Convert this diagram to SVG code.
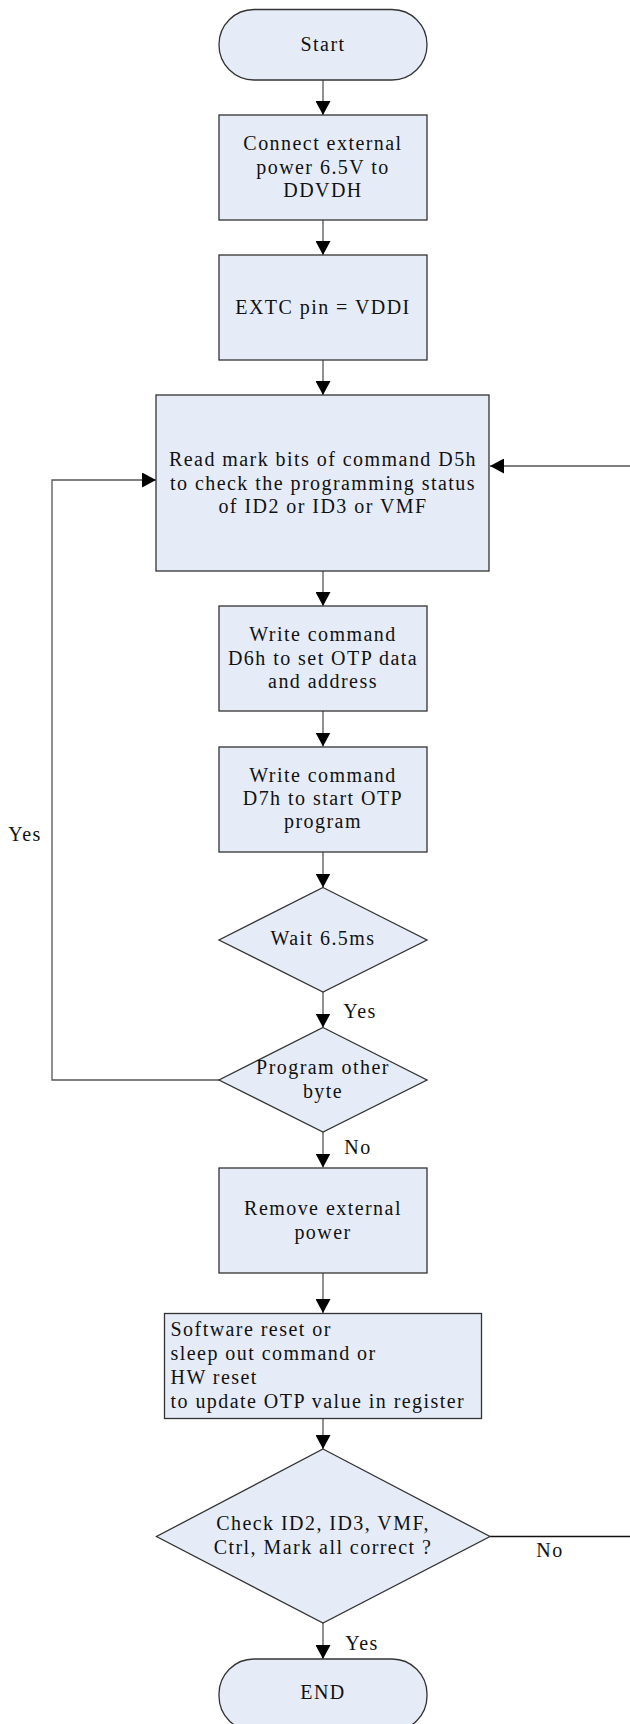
<svg xmlns="http://www.w3.org/2000/svg" width="630" height="1724" viewBox="0 0 630 1724">
<defs>
<style>
.n{fill:#E6ECF7;stroke:#333;stroke-width:1.3}
.t{font-family:"Liberation Serif","Times New Roman",serif;font-size:20px;letter-spacing:1.45px;fill:#111;text-anchor:middle}
.l{text-anchor:start}
.c{fill:none;stroke:#555;stroke-width:1.3}
.k{stroke:#111}
</style>
<marker id="a" markerWidth="14" markerHeight="15" viewBox="0 0 14 15" refX="14" refY="7.5" orient="auto" markerUnits="userSpaceOnUse">
<path d="M0,0 L14,7.5 L0,15 Z" fill="#000"/>
</marker>
</defs>
<rect width="630" height="1724" fill="#fff"/>
<g id="connectors">
<path class="c" d="M323,80 V115" marker-end="url(#a)"/>
<path class="c" d="M323,220 V255" marker-end="url(#a)"/>
<path class="c" d="M323,360 V395" marker-end="url(#a)"/>
<path class="c" d="M323,571 V606" marker-end="url(#a)"/>
<path class="c" d="M323,711 V746.5" marker-end="url(#a)"/>
<path class="c" d="M323,852 V887.5" marker-end="url(#a)"/>
<path class="c" d="M323,992 V1027.5" marker-end="url(#a)"/>
<path class="c" d="M323,1132 V1167.5" marker-end="url(#a)"/>
<path class="c" d="M323,1273 V1313" marker-end="url(#a)"/>
<path class="c" d="M323,1418 V1449" marker-end="url(#a)"/>
<path class="c" d="M323,1623 V1659" marker-end="url(#a)"/>
<path class="c" d="M219,1080 H52 V480 H156" marker-end="url(#a)"/>
<path class="c k" d="M490,1536.5 H630"/>
<path class="c" d="M630,466 H490" marker-end="url(#a)"/>
<text class="t" x="25" y="841">Yes</text>
<text class="t" x="360" y="1018">Yes</text>
<text class="t" x="358" y="1154">No</text>
<text class="t" x="550" y="1557">No</text>
<text class="t" x="362" y="1650">Yes</text>
</g>
<g id="start">
<rect class="n" x="219" y="9.5" width="208" height="70.5" rx="35" ry="35"/>
<text class="t" x="323" y="51">Start</text>
</g>
<g id="connect">
<rect class="n" x="219" y="115" width="208" height="105"/>
<text class="t" x="323" y="150">Connect external</text>
<text class="t" x="323" y="173.5">power 6.5V to</text>
<text class="t" x="323" y="197">DDVDH</text>
</g>
<g id="extc">
<rect class="n" x="219" y="255" width="208" height="105"/>
<text class="t" x="323" y="314">EXTC pin = VDDI</text>
</g>
<g id="read">
<rect class="n" x="156" y="395" width="333" height="176"/>
<text class="t" x="323" y="466">Read mark bits of command D5h</text>
<text class="t" x="323" y="489.5">to check the programming status</text>
<text class="t" x="323" y="513">of ID2 or ID3 or VMF</text>
</g>
<g id="d6">
<rect class="n" x="219" y="606" width="208" height="105"/>
<text class="t" x="323" y="641">Write command</text>
<text class="t" x="323" y="665">D6h to set OTP data</text>
<text class="t" x="323" y="688">and address</text>
</g>
<g id="d7">
<rect class="n" x="219" y="747" width="208" height="105"/>
<text class="t" x="323" y="782">Write command</text>
<text class="t" x="323" y="805">D7h to start OTP</text>
<text class="t" x="323" y="828">program</text>
</g>
<g id="wait">
<polygon class="n" points="323,887.5 427,940 323,992 219,940"/>
<text class="t" x="323" y="945">Wait 6.5ms</text>
</g>
<g id="other">
<polygon class="n" points="323,1027.5 427,1080 323,1132 219,1080"/>
<text class="t" x="323" y="1074">Program other</text>
<text class="t" x="323" y="1098">byte</text>
</g>
<g id="remove">
<rect class="n" x="219" y="1168" width="208" height="105"/>
<text class="t" x="323" y="1215">Remove external</text>
<text class="t" x="323" y="1238.5">power</text>
</g>
<g id="reset">
<rect class="n" x="164.5" y="1313.5" width="317" height="105"/>
<text class="t l" x="170.5" y="1336">Software reset or</text>
<text class="t l" x="170.5" y="1359.5">sleep out command or</text>
<text class="t l" x="170.5" y="1383.5">HW reset</text>
<text class="t l" x="170.5" y="1407.5">to update OTP value in register</text>
</g>
<g id="check">
<polygon class="n" points="323,1449 490,1536.5 323,1623 156.5,1536.5"/>
<text class="t" x="323" y="1530">Check ID2, ID3, VMF,</text>
<text class="t" x="323" y="1554">Ctrl, Mark all correct ?</text>
</g>
<g id="end">
<rect class="n" x="219" y="1659" width="208" height="72" rx="35" ry="35"/>
<text class="t" x="323" y="1699">END</text>
</g>
</svg>
